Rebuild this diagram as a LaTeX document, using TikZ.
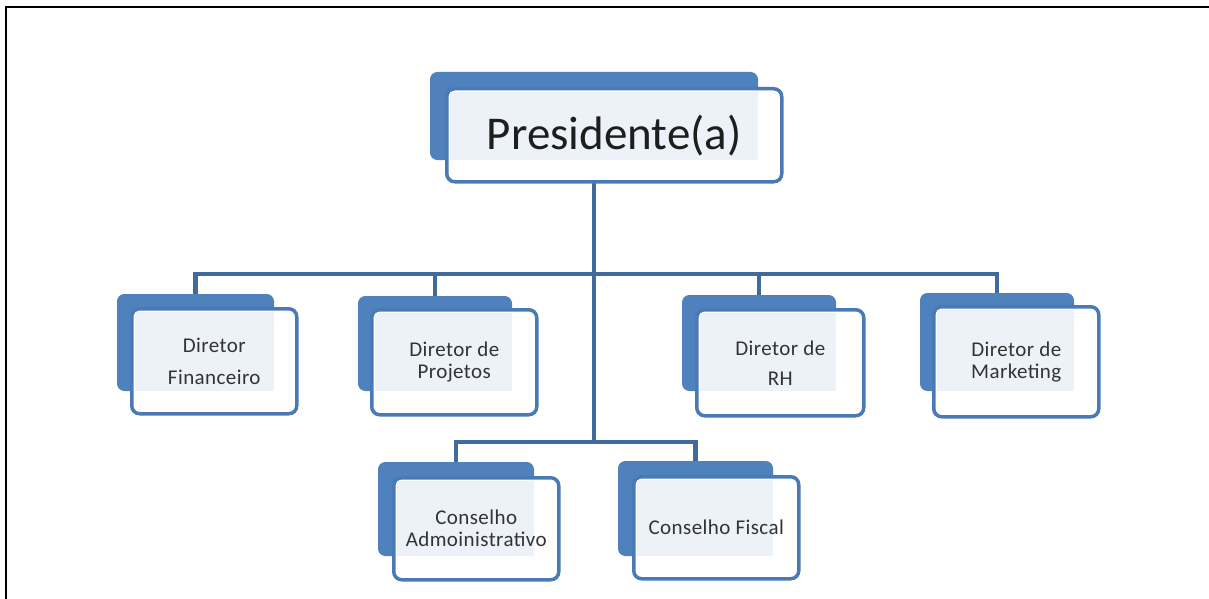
\documentclass[tikz,border=0pt]{standalone}
\usepackage{fontspec}
\setmainfont{Carlito}
\usetikzlibrary{backgrounds}
\definecolor{backblue}{HTML}{4F81BD}
\definecolor{edgeblue}{HTML}{4A7AB5}
\definecolor{lineblue}{HTML}{3F6A9B}
\definecolor{innerfill}{HTML}{EDF1F8}
\definecolor{txtgray}{HTML}{333333}
\newcommand\orgunit[9]{%
  \node[backbox, minimum width=#4pt, minimum height=#5pt, anchor=north west] (#1B) at (#2,#3) {};
  \node[frontbox, minimum width=#6pt, minimum height=#7pt, anchor=north west] (#1) at (#2+#8,#3+#8) {};
  \fill[innerfill] ([shift={(5,5)}]#1.north west) rectangle (#1B.south east);
  \node[txt] (#1T) at (#1.center) {#9};
}
\begin{document}
\begin{tikzpicture}[x=1pt,y=-1pt,
  backbox/.style={fill=backblue, draw=backblue, line width=1pt, rounded corners=7pt, inner sep=0pt},
  frontbox/.style={fill=white, draw=edgeblue, line width=3.5pt, rounded corners=8pt, inner sep=0pt},
  conn/.style={draw=lineblue, line width=4.5pt},
  txt/.style={align=center, text=txtgray, font=\fontsize{21}{22}\selectfont\addfontfeature{LetterSpace=2}, inner sep=0pt},
  frame/.style={draw=black, line width=2pt}]
\useasboundingbox (0,0) rectangle (1209,599);

\orgunit{pres}{430}{72}{327}{87}{335}{93}{15}{\fontsize{47}{50}\selectfont\addfontfeature{LetterSpace=0}\color[HTML]{1E1E1E}Presidente(a)}
\orgunit{fin}{117}{294}{156}{96}{165}{105}{13}{Diretor\\[10pt]Financeiro}
\orgunit{proj}{358}{296}{153}{94}{165}{105}{12}{Diretor de\\Projetos}
\orgunit{rh}{682}{295}{153}{95}{167}{106}{13}{Diretor de\\[8pt]RH}
\orgunit{mkt}{920}{293}{153}{97}{165}{110}{12}{Diretor de\\Marketing}
\orgunit{adm}{378}{462}{155}{93}{165}{102}{14}{Conselho\\Admoinistrativo}
\orgunit{fis}{618}{461}{154}{94}{165}{102}{14}{Conselho Fiscal}

\coordinate (bus) at (594,274);
\coordinate (bus2) at (594,442);

\begin{scope}[on background layer]
  \fill[white] (0,0) rectangle (1209,599);
  \draw[conn] (bus |- pres.center) -- (bus2);
  \draw[conn] (finB.north) |- (bus) -| (mktB.north);
  \draw[conn] (projB.north) -- (projB.north |- bus);
  \draw[conn] (rhB.north) -- (rhB.north |- bus);
  \draw[conn] (admB.north) |- (bus2) -| (fisB.north);
\end{scope}

\draw[frame] (6,599) -- (6,7.5) -- (1209,7.5);
\end{tikzpicture}
\end{document}
